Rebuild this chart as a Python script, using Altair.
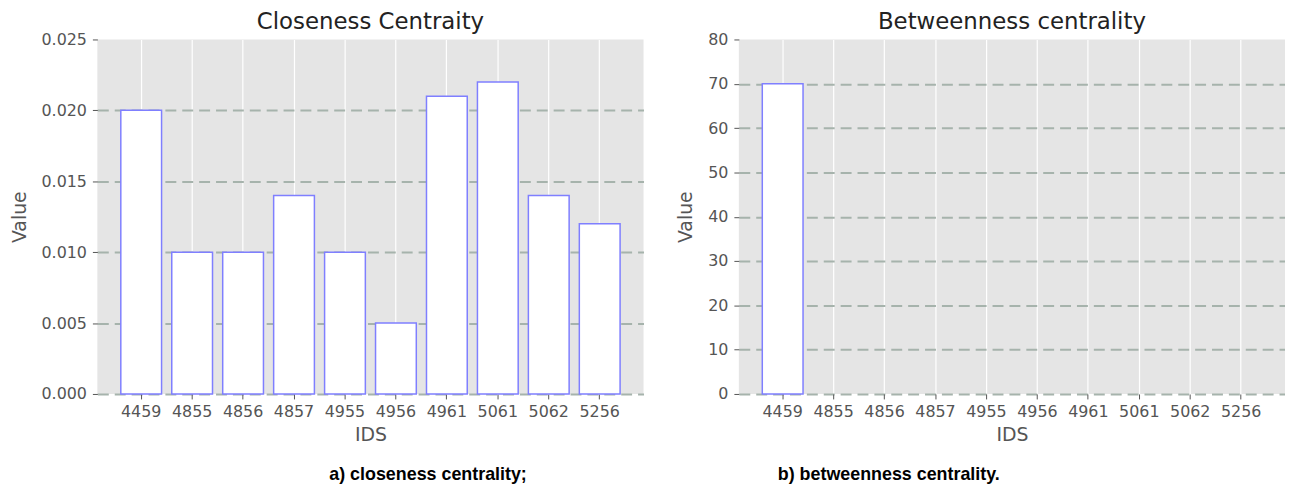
import altair as alt
import pandas as pd

ids = ["4459", "4855", "4856", "4857", "4955", "4956", "4961", "5061", "5062", "5256"]
closeness = [0.020, 0.010, 0.010, 0.014, 0.010, 0.005, 0.021, 0.022, 0.014, 0.012]
betweenness = [70, 0, 0, 0, 0, 0, 0, 0, 0, 0]

title_left = "Closeness Centraity"
title_right = "Betweenness centrality"
caption_left = "a) closeness centrality;"
caption_right = "b) betweenness centrality."

TICK_FONT = "DejaVu Sans"
W, H = 550, 357


def panel(values, ymax, ystep, yfmt, title, caption, cap_x):
    df = pd.DataFrame({"IDS": ids, "Value": values})
    ticks = [round(i * ystep, 6) for i in range(int(round(ymax / ystep)) + 1)]
    xenc = alt.X(
        "IDS:N",
        sort=ids,
        scale=alt.Scale(domain=ids, paddingInner=0.2, paddingOuter=0.46),
        axis=alt.Axis(
            title="IDS",
            labelAngle=0,
            bandPosition=0.5,
            grid=True,
            gridColor="white",
            gridWidth=1.2,
            domain=False,
            tickColor="#555555",
            tickSize=5,
            labelColor="#555555",
            labelFont=TICK_FONT,
            labelFontSize=16,
            labelPadding=5,
            titleFont=TICK_FONT,
            titleFontSize=19,
            titleFontWeight="normal",
            titleColor="#555555",
            titlePadding=6,
        ),
    )
    yenc = alt.Y(
        "Value:Q",
        scale=alt.Scale(domain=[0, ymax], nice=False, zero=True),
        axis=alt.Axis(
            title="Value",
            values=ticks,
            format=yfmt,
            grid=True,
            gridColor="#a6b3ac",
            gridWidth=2,
            gridDash=[11, 6],
            gridOpacity=alt.condition(f"datum.value >= {ymax}", alt.value(0), alt.value(1)),
            domain=False,
            tickColor="#555555",
            tickSize=5,
            labelColor="#555555",
            labelFont=TICK_FONT,
            labelFontSize=16,
            labelPadding=6,
            titleFont=TICK_FONT,
            titleFontSize=19,
            titleFontWeight="normal",
            titleColor="#555555",
            titlePadding=12,
        ),
    )
    bars = alt.Chart(df).mark_bar(
        fill="white", stroke="#7f7fff", strokeWidth=1.5
    ).encode(
        x=xenc,
        y=yenc,
        strokeOpacity=alt.condition("datum.Value > 0", alt.value(1), alt.value(0)),
    )
    cap = alt.Chart(pd.DataFrame({"caption": [caption]})).mark_text(
        font="Liberation Sans",
        fontWeight="bold",
        fontSize=18,
        color="black",
        align="center",
        baseline="alphabetic",
    ).encode(x=alt.value(cap_x), y=alt.value(444), text="caption:N")
    return alt.layer(bars, cap).properties(
        width=W,
        height=H,
        title=alt.TitleParams(
            title, font=TICK_FONT, fontSize=23, fontWeight="normal", color="#222222", offset=-2
        ),
    )


left = panel(closeness, 0.025, 0.005, ".3f", title_left, caption_left, 333)
right = panel(betweenness, 80, 10, "d", title_right, caption_right, 151)

chart = (
    alt.hconcat(left, right, spacing=33)
    .properties(padding={"left": 2, "top": 1, "right": 0, "bottom": 0})
    .configure_view(fill="#e5e5e5", stroke=None)
)

chart.save("out.html", embed_options={"renderer": "svg", "actions": False})
